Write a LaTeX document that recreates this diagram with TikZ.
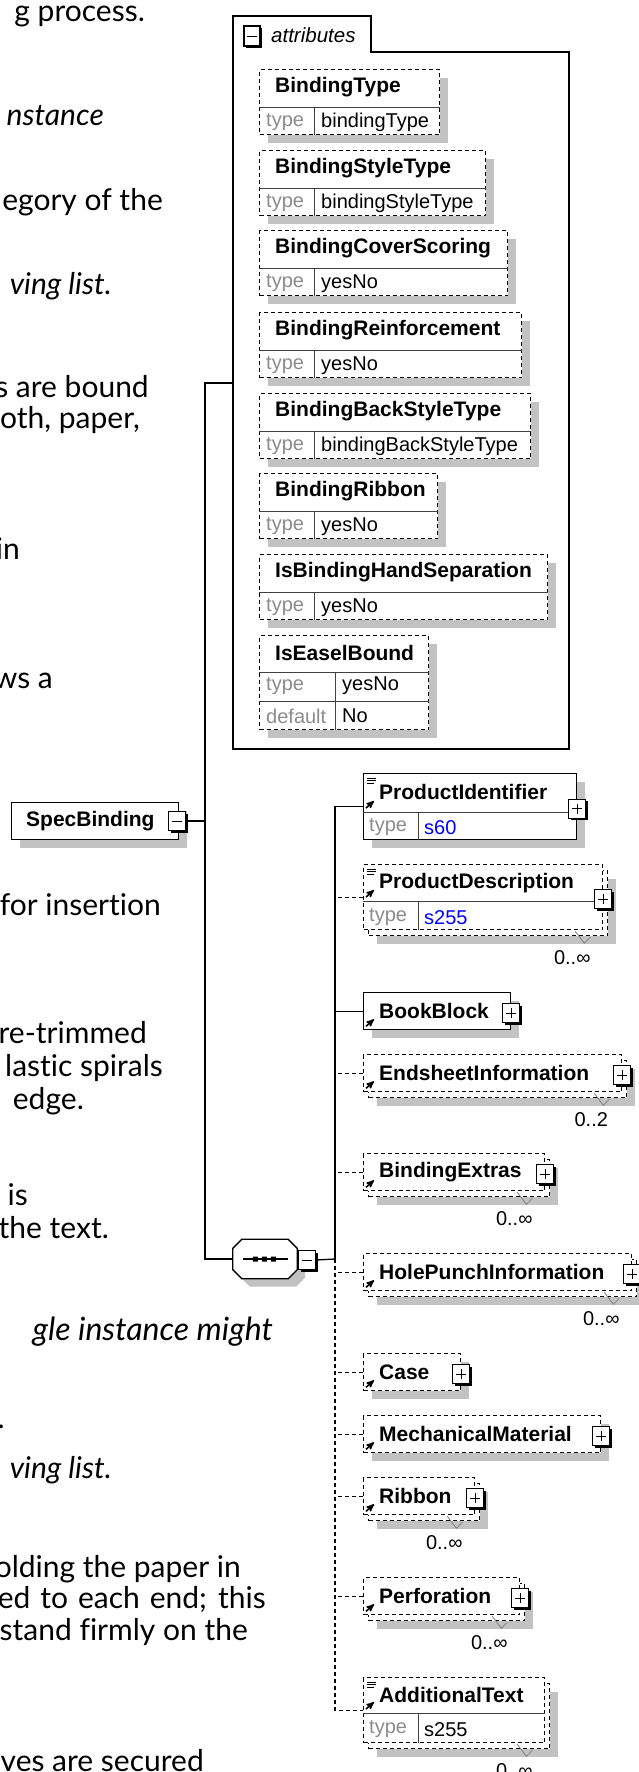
\documentclass[tikz,border=0pt]{standalone}
\usepackage{fontspec}
\setmainfont{Lato}[Ligatures=NoCommon]
\newfontfamily\xsdfont{Liberation Sans}
\usetikzlibrary{positioning,shadows,arrows}
\definecolor{shadowgray}{gray}{0.76}
\definecolor{typegray}{gray}{0.55}
\definecolor{valblue}{rgb}{0,0,1}
\newcommand{\namefont}{\xsdfont\bfseries\fontsize{21}{24}\selectfont}
\newcommand{\rowfont}{\xsdfont\fontsize{20}{24}\selectfont}
\newcommand{\pagefont}{\fontsize{30}{32}\selectfont}

\begin{document}
\begin{tikzpicture}[x=1pt,y=-1pt,
box/.style={draw,line width=1.3pt,fill=white,anchor=north west,inner sep=0pt,minimum height=37pt},
opt/.style={box,dash pattern=on 4pt off 3pt},
shade/.style={drop shadow={shadow xshift=8pt,shadow yshift=-8pt,fill=shadowgray,opacity=1}},
attr/.style={opt,shade,line width=1.2pt,minimum height=65pt},
ename/.style={anchor=west,inner sep=0pt,font=\namefont},
tname/.style={anchor=west,inner sep=0pt,font=\rowfont,text=typegray},
tval/.style={anchor=west,inner sep=0pt,font=\rowfont},
mult/.style={inner sep=0pt,font=\rowfont},
row/.style={draw=black!75,line width=1pt},
pmbox/.style={draw,line width=1.3pt,fill=white,minimum width=17pt,minimum height=19pt,inner sep=0pt,
  drop shadow={shadow xshift=2pt,shadow yshift=-2pt,fill=black,opacity=1}},
minus/.style={pmbox,path picture={\draw[line width=1pt] ([xshift=-5pt]path picture bounding box.center) -- ([xshift=5pt]path picture bounding box.center);}},
plus/.style={pmbox,path picture={\draw[line width=1pt] ([xshift=-5pt]path picture bounding box.center) -- ([xshift=5pt]path picture bounding box.center)
  ([yshift=-5pt]path picture bounding box.center) -- ([yshift=5pt]path picture bounding box.center);}},
link/.style={draw,line width=1.3pt},
optlink/.style={link,dash pattern=on 4pt off 3pt},
body/.style={anchor=base east,inner sep=0pt,font=\pagefont},
ref/.style={line width=1.6pt,-stealth'},
notch/.style={draw=gray,line width=0.8pt},
]
\useasboundingbox (0,0) rectangle (639,1772);
\clip (0,0) rectangle (639,1772);

% text of the page behind the diagram
\node[body] (t1) at (145,21) {g process.};
\node[body,font=\pagefont\itshape] (t2) at (104,125) {nstance};
\node[body] (t3) at (163,210) {egory of the};
\node[body,font=\pagefont\itshape] (t4) at (112,294) {ving list.};
\node[body] (t5) at (149,397) {s are bound};
\node[body] (t6) at (140,428) {oth, paper,};
\node[body] (t7) at (20,559) {in};
\node[body] (t8) at (53,688) {ws a};
\node[body] (t9) at (161,915) {for insertion};
\node[body] (t10) at (147,1043) {re-trimmed};
\node[body] (t11) at (163,1076) {lastic spirals};
\node[body] (t12) at (84,1109) {edge.};
\node[body] (t13) at (28,1205) {is};
\node[body] (t14) at (109,1238) {the text.};
\node[body,font=\fontsize{32}{32}\selectfont\itshape] (t15) at (273,1340) {gle instance might};
\node[body] (t16) at (5,1428) {.};
\node[body,font=\pagefont\itshape] (t17) at (112,1478) {ving list.};
\node[body] (t18) at (241,1577) {olding the paper in};
\node[body] (t19) at (266,1608) {\makebox[268pt][s]{ed to each end; this}};
\node[body] (t20) at (248,1640) {stand firmly on the};
\node[body] (t21) at (204,1771) {ves are secured};

% attributes
\draw[link,fill=white] (233,749) -- (233,16) -- (371,16) -- (371,52) -- (569,52) -- (569,749) -- cycle;
\coordinate (attrin) at (233,383);
\node[minus,minimum width=16pt,minimum height=20pt] (attr-m) at (252,36) {};
\node[anchor=west,inner sep=0pt,font=\xsdfont\itshape\fontsize{20.5}{24}\selectfont] (attr-t) at (271,35) {attributes};

\node[attr,minimum width=180pt] (a1) at (259,69) {};
\node[ename] (a1-n) at ([shift={(16,18)}]a1.north west) {BindingType};
\draw[row] ([shift={(0,38)}]a1.north west) -- ([shift={(0,38)}]a1.north east);
\draw[row] ([shift={(55,38)}]a1.north west) -- ([shift={(55,0)}]a1.south west);
\node[tname] (a1-t) at ([shift={(7,-13)}]a1.south west) {type};
\node[tval] (a1-v) at ([shift={(62,-13)}]a1.south west) {bindingType};

\node[attr,minimum width=226pt] (a2) at (259,150) {};
\node[ename] (a2-n) at ([shift={(16,18)}]a2.north west) {BindingStyleType};
\draw[row] ([shift={(0,38)}]a2.north west) -- ([shift={(0,38)}]a2.north east);
\draw[row] ([shift={(55,38)}]a2.north west) -- ([shift={(55,0)}]a2.south west);
\node[tname] (a2-t) at ([shift={(7,-13)}]a2.south west) {type};
\node[tval] (a2-v) at ([shift={(62,-13)}]a2.south west) {bindingStyleType};

\node[attr,minimum width=248pt] (a3) at (259,230) {};
\node[ename] (a3-n) at ([shift={(16,18)}]a3.north west) {BindingCoverScoring};
\draw[row] ([shift={(0,38)}]a3.north west) -- ([shift={(0,38)}]a3.north east);
\draw[row] ([shift={(55,38)}]a3.north west) -- ([shift={(55,0)}]a3.south west);
\node[tname] (a3-t) at ([shift={(7,-13)}]a3.south west) {type};
\node[tval] (a3-v) at ([shift={(62,-13)}]a3.south west) {yesNo};

\node[attr,minimum width=262pt] (a4) at (259,312) {};
\node[ename] (a4-n) at ([shift={(16,18)}]a4.north west) {BindingReinforcement};
\draw[row] ([shift={(0,38)}]a4.north west) -- ([shift={(0,38)}]a4.north east);
\draw[row] ([shift={(55,38)}]a4.north west) -- ([shift={(55,0)}]a4.south west);
\node[tname] (a4-t) at ([shift={(7,-13)}]a4.south west) {type};
\node[tval] (a4-v) at ([shift={(62,-13)}]a4.south west) {yesNo};

\node[attr,minimum width=271pt] (a5) at (259,393) {};
\node[ename] (a5-n) at ([shift={(16,18)}]a5.north west) {BindingBackStyleType};
\draw[row] ([shift={(0,38)}]a5.north west) -- ([shift={(0,38)}]a5.north east);
\draw[row] ([shift={(55,38)}]a5.north west) -- ([shift={(55,0)}]a5.south west);
\node[tname] (a5-t) at ([shift={(7,-13)}]a5.south west) {type};
\node[tval] (a5-v) at ([shift={(62,-13)}]a5.south west) {bindingBackStyleType};

\node[attr,minimum width=178pt] (a6) at (259,473) {};
\node[ename] (a6-n) at ([shift={(16,18)}]a6.north west) {BindingRibbon};
\draw[row] ([shift={(0,38)}]a6.north west) -- ([shift={(0,38)}]a6.north east);
\draw[row] ([shift={(55,38)}]a6.north west) -- ([shift={(55,0)}]a6.south west);
\node[tname] (a6-t) at ([shift={(7,-13)}]a6.south west) {type};
\node[tval] (a6-v) at ([shift={(62,-13)}]a6.south west) {yesNo};

\node[attr,minimum width=288pt] (a7) at (259,554) {};
\node[ename] (a7-n) at ([shift={(16,18)}]a7.north west) {IsBindingHandSeparation};
\draw[row] ([shift={(0,38)}]a7.north west) -- ([shift={(0,38)}]a7.north east);
\draw[row] ([shift={(55,38)}]a7.north west) -- ([shift={(55,0)}]a7.south west);
\node[tname] (a7-t) at ([shift={(7,-13)}]a7.south west) {type};
\node[tval] (a7-v) at ([shift={(62,-13)}]a7.south west) {yesNo};

\node[attr,minimum width=169pt,minimum height=94pt] (a8) at (259,635) {};
\node[ename] (a8-n) at ([shift={(16,18)}]a8.north west) {IsEaselBound};
\draw[row] ([shift={(0,37)}]a8.north west) -- ([shift={(0,37)}]a8.north east);
\draw[row] ([shift={(0,66)}]a8.north west) -- ([shift={(0,66)}]a8.north east);
\draw[row] ([shift={(76,37)}]a8.north west) -- ([shift={(76,0)}]a8.south west);
\node[tname] (a8-t) at ([shift={(7,51)}]a8.north west) {type};
\node[tval] (a8-v) at ([shift={(83,51)}]a8.north west) {yesNo};
\node[tname] (a8-d) at ([shift={(7,-14)}]a8.south west) {default};
\node[tval] (a8-dv) at ([shift={(83,-14)}]a8.south west) {No};

% the element and its sequence
\node[box,shade,minimum width=167pt] (spec) at (11,802) {};
\node[ename] (spec-n) at ([shift={(15,0)}]spec.west) {SpecBinding};
\node[minus] (spec-m) at (177,821) {};
\coordinate (fork) at (205,821);
\draw[link] (spec-m.east) -- (fork);

\node[inner sep=0pt,minimum width=64pt,minimum height=39pt] (seq) at (265,1259) {};
\draw[link,fill=white,shade] ([shift={(9,0)}]seq.north west) -- ([shift={(-9,0)}]seq.north east)
  -- ([shift={(0,9)}]seq.north east) -- ([shift={(0,-9)}]seq.south east)
  -- ([shift={(-9,0)}]seq.south east) -- ([shift={(9,0)}]seq.south west)
  -- ([shift={(0,-9)}]seq.south west) -- ([shift={(0,9)}]seq.north west) -- cycle;
\draw[line width=1.3pt] ([shift={(10,0)}]seq.west) -- ([shift={(55,0)}]seq.west);
\fill ([shift={(20,-2.5)}]seq.west) rectangle ++(5,5)
      ([shift={(29,-2.5)}]seq.west) rectangle ++(5,5)
      ([shift={(38,-2.5)}]seq.west) rectangle ++(5,5);
\node[minus] (seq-m) at (307,1260) {};
\draw[link] (attrin) -| (fork) |- (seq.west);
\coordinate (bus) at (335,1259);
\draw[link] (seq-m.east) -- (bus);

% children
\node[box,shade,minimum width=213pt,minimum height=66pt] (pid) at (363,773) {};
\node[ename] (pid-n) at ([shift={(16,19)}]pid.north west) {ProductIdentifier};
\draw[row] ([shift={(0,39)}]pid.north west) -- ([shift={(0,39)}]pid.north east);
\draw[row] ([shift={(55,39)}]pid.north west) -- ([shift={(55,0)}]pid.south west);
\node[tname] (pid-t) at ([shift={(6,-13)}]pid.south west) {type};
\node[tval,text=valblue] (pid-v) at ([shift={(61,-13)}]pid.south west) {s60};
\node[plus] (pid-p) at ([shift={(0,2)}]pid.east) {};
\draw[line width=1pt] ([shift={(4,5)}]pid.north west) -- ++(9,0) ++(-9,2.5) -- ++(9,0) ++(-9,2.5) -- ++(7,0);
\draw[ref] ([shift={(3,35)}]pid.north west) -- ++(8,-7);

\node[opt,shade,minimum width=239pt,minimum height=65pt] (pdesc-b) at (368,870) {};
\node[opt,minimum width=239pt,minimum height=65pt] (pdesc) at (363,864) {};
\node[ename] (pdesc-n) at ([shift={(16,19)}]pdesc.north west) {ProductDescription};
\draw[row] ([shift={(0,37)}]pdesc.north west) -- ([shift={(0,37)}]pdesc.north east);
\draw[row] ([shift={(55,37)}]pdesc.north west) -- ([shift={(55,0)}]pdesc.south west);
\node[tname] (pdesc-t) at ([shift={(6,-13)}]pdesc.south west) {type};
\node[tval,text=valblue] (pdesc-v) at ([shift={(61,-13)}]pdesc.south west) {s255};
\node[plus] (pdesc-p) at ([shift={(0,2)}]pdesc.east) {};
\draw[line width=1pt] ([shift={(4,5)}]pdesc.north west) -- ++(9,0) ++(-9,2.5) -- ++(9,0) ++(-9,2.5) -- ++(7,0);
\draw[ref] ([shift={(3,33)}]pdesc.north west) -- ++(8,-7);
\draw[notch] ([shift={(-28,1)}]pdesc.south east) -- ++(9,12) -- ++(6,-6);
\node[mult] (pdesc-m) at ([shift={(-31,27)}]pdesc.south east) {0..∞};

\node[box,shade,minimum width=147pt] (bb) at (363,992) {};
\node[ename] (bb-n) at ([shift={(16,0)}]bb.west) {BookBlock};
\node[plus] (bb-p) at ([shift={(0,2)}]bb.east) {};
\draw[ref] ([shift={(3,-4)}]bb.south west) -- ++(8,-7);

\node[opt,shade,minimum width=258pt] (esi-b) at (368,1060) {};
\node[opt,minimum width=258pt] (esi) at (363,1054) {};
\node[ename] (esi-n) at ([shift={(16,0)}]esi.west) {EndsheetInformation};
\node[plus] (esi-p) at ([shift={(0,2)}]esi.east) {};
\draw[ref] ([shift={(3,-4)}]esi.south west) -- ++(8,-7);
\draw[notch] ([shift={(-28,1)}]esi.south east) -- ++(9,12) -- ++(6,-6);
\node[mult] (esi-m) at ([shift={(-31,27)}]esi.south east) {0..2};

\node[opt,shade,minimum width=181pt] (bx-b) at (368,1159) {};
\node[opt,minimum width=181pt] (bx) at (363,1153) {};
\node[ename] (bx-n) at ([shift={(16,0)}]bx.west) {BindingExtras};
\node[plus] (bx-p) at ([shift={(0,2)}]bx.east) {};
\draw[ref] ([shift={(3,-4)}]bx.south west) -- ++(8,-7);
\draw[notch] ([shift={(-28,1)}]bx.south east) -- ++(9,12) -- ++(6,-6);
\node[mult] (bx-m) at ([shift={(-31,27)}]bx.south east) {0..∞};

\node[opt,shade,minimum width=268pt] (hpi-b) at (368,1259) {};
\node[opt,minimum width=268pt] (hpi) at (363,1253) {};
\node[ename] (hpi-n) at ([shift={(16,0)}]hpi.west) {HolePunchInformation};
\node[plus] (hpi-p) at ([shift={(0,2)}]hpi.east) {};
\draw[ref] ([shift={(3,-4)}]hpi.south west) -- ++(8,-7);
\draw[notch] ([shift={(-28,1)}]hpi.south east) -- ++(9,12) -- ++(6,-6);
\node[mult] (hpi-m) at ([shift={(-31,27)}]hpi.south east) {0..∞};

\node[opt,shade,minimum width=97pt] (cs) at (363,1353) {};
\node[ename] (cs-n) at ([shift={(16,0)}]cs.west) {Case};
\node[plus] (cs-p) at ([shift={(0,2)}]cs.east) {};
\draw[ref] ([shift={(3,-4)}]cs.south west) -- ++(8,-7);

\node[opt,shade,minimum width=237pt] (mm) at (363,1415) {};
\node[ename] (mm-n) at ([shift={(16,0)}]mm.west) {MechanicalMaterial};
\node[plus] (mm-p) at ([shift={(0,2)}]mm.east) {};
\draw[ref] ([shift={(3,-4)}]mm.south west) -- ++(8,-7);

\node[opt,shade,minimum width=111pt] (rb-b) at (368,1483) {};
\node[opt,minimum width=111pt] (rb) at (363,1477) {};
\node[ename] (rb-n) at ([shift={(16,0)}]rb.west) {Ribbon};
\node[plus] (rb-p) at ([shift={(0,2)}]rb.east) {};
\draw[ref] ([shift={(3,-4)}]rb.south west) -- ++(8,-7);
\draw[notch] ([shift={(-28,1)}]rb.south east) -- ++(9,12) -- ++(6,-6);
\node[mult] (rb-m) at ([shift={(-31,27)}]rb.south east) {0..∞};

\node[opt,shade,minimum width=156pt] (pf-b) at (368,1583) {};
\node[opt,minimum width=156pt] (pf) at (363,1577) {};
\node[ename] (pf-n) at ([shift={(16,0)}]pf.west) {Perforation};
\node[plus] (pf-p) at ([shift={(0,2)}]pf.east) {};
\draw[ref] ([shift={(3,-4)}]pf.south west) -- ++(8,-7);
\draw[notch] ([shift={(-28,1)}]pf.south east) -- ++(9,12) -- ++(6,-6);
\node[mult] (pf-m) at ([shift={(-31,27)}]pf.south east) {0..∞};

\node[opt,shade,minimum width=181pt,minimum height=65pt] (at-b) at (368,1683) {};
\node[opt,minimum width=181pt,minimum height=65pt] (at) at (363,1677) {};
\node[ename] (at-n) at ([shift={(16,18)}]at.north west) {AdditionalText};
\draw[row] ([shift={(0,36)}]at.north west) -- ([shift={(0,36)}]at.north east);
\draw[row] ([shift={(55,36)}]at.north west) -- ([shift={(55,0)}]at.south west);
\node[tname] (at-t) at ([shift={(6,-14)}]at.south west) {type};
\node[tval] (at-v) at ([shift={(61,-14)}]at.south west) {s255};
\draw[line width=1pt] ([shift={(4,5)}]at.north west) -- ++(9,0) ++(-9,2.5) -- ++(9,0) ++(-9,2.5) -- ++(7,0);
\draw[ref] ([shift={(3,32)}]at.north west) -- ++(8,-7);
\draw[notch] ([shift={(-28,1)}]at.south east) -- ++(9,12) -- ++(6,-6);
\node[mult] (at-m) at ([shift={(-31,27)}]at.south east) {0..∞};

% connectors of the sequence
\draw[link] (pid.west) -| (bus);
\draw[optlink] (bus) |- (at.west);
\draw[optlink] (pdesc.west) -- (pdesc.west -| bus);
\draw[link] (bb.west) -- (bb.west -| bus);
\draw[optlink] (esi.west) -- (esi.west -| bus);
\draw[optlink] (bx.west) -- (bx.west -| bus);
\draw[optlink] (hpi.west) -- (hpi.west -| bus);
\draw[optlink] (cs.west) -- (cs.west -| bus);
\draw[optlink] (mm.west) -- (mm.west -| bus);
\draw[optlink] (rb.west) -- (rb.west -| bus);
\draw[optlink] (pf.west) -- (pf.west -| bus);
\end{tikzpicture}
\end{document}
